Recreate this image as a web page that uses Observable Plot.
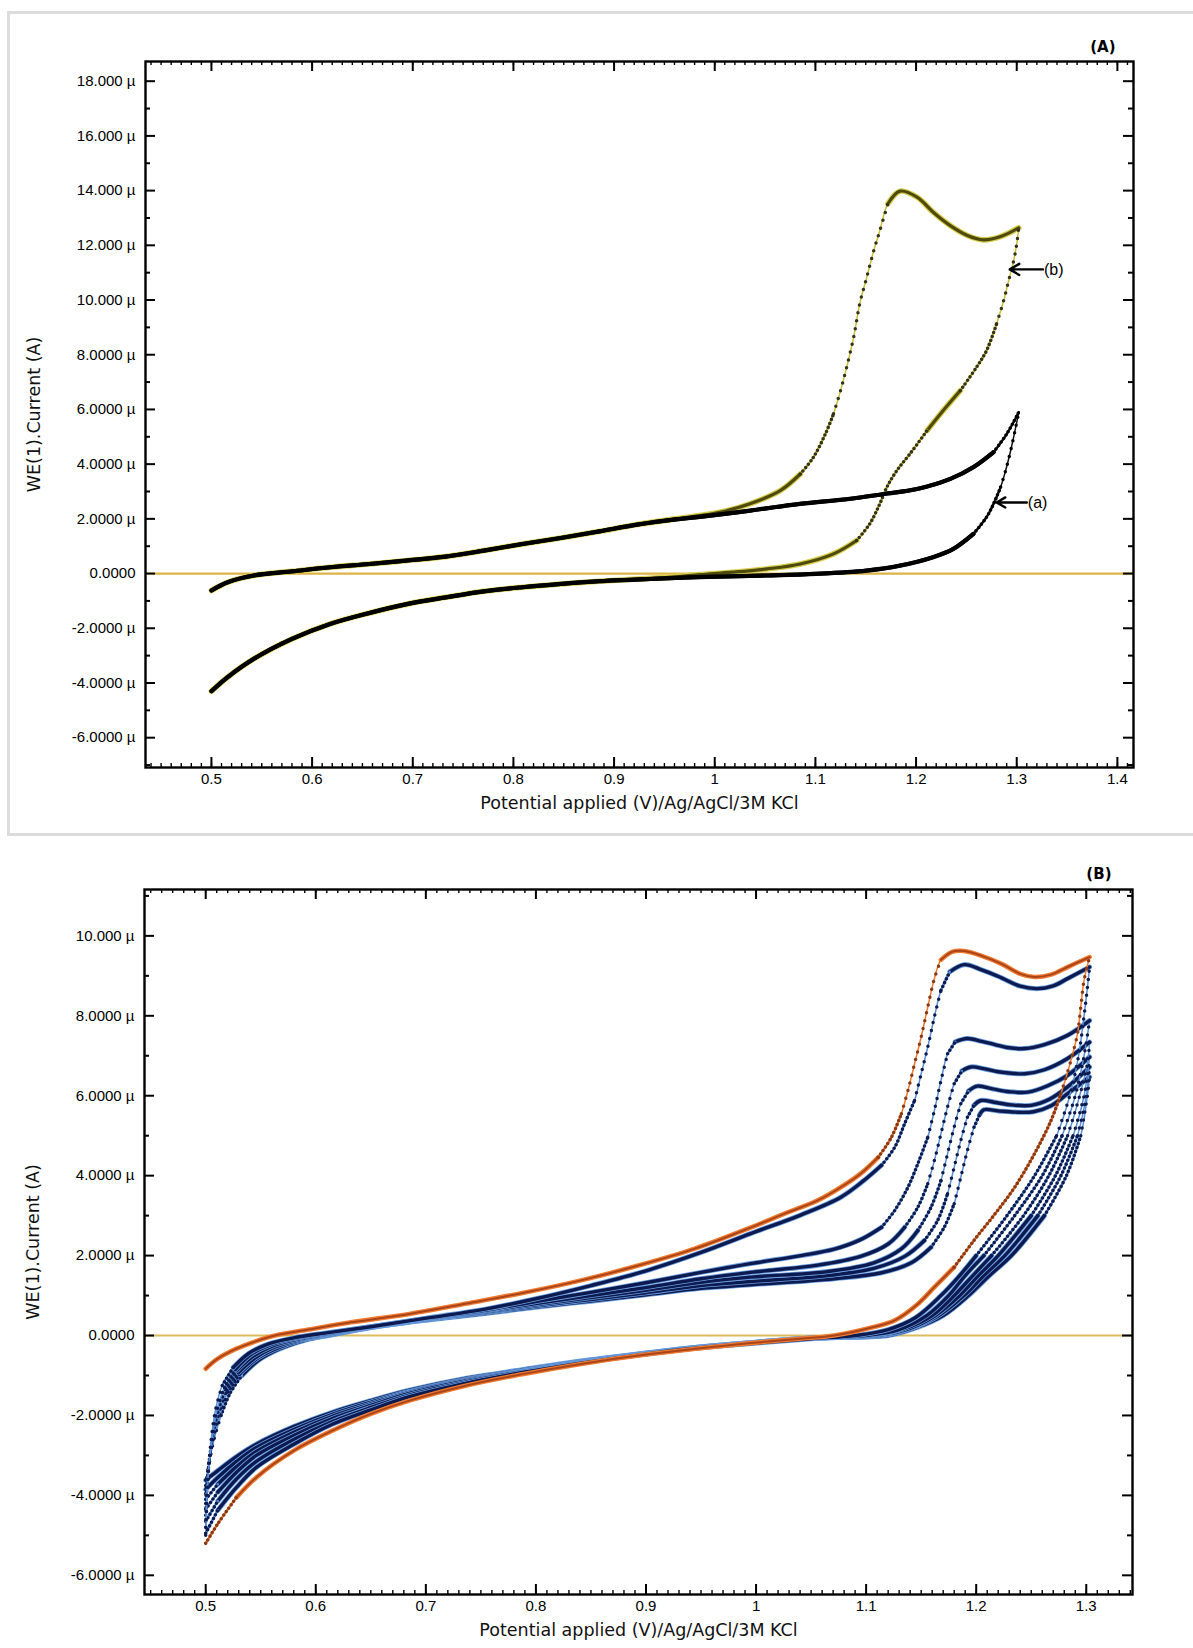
<!DOCTYPE html>
<html><head><meta charset="utf-8">
<script src="https://cdn.jsdelivr.net/npm/d3@7"></script>
<script src="https://cdn.jsdelivr.net/npm/@observablehq/plot@0.6"></script>
<style>
html,body{margin:0;padding:0;background:#fff;overflow:hidden;}
#page{position:relative;width:1193px;height:1648px;background:#fff;}
#boxA{position:absolute;left:7px;top:11px;width:1200px;height:825px;border:3px solid #dcdcdc;box-sizing:border-box;}
#chartA{position:absolute;left:0;top:0;}
#chartB{position:absolute;left:0;top:840px;}
</style></head>
<body><div id="page"><div id="boxA"></div><div id="chartA"></div><div id="chartB"></div></div>
<script>
// ---------------- Panel A data (potential V, current µA) ----------------
const xTicksA = [0.5,0.6,0.7,0.8,0.9,1.0,1.1,1.2,1.3,1.4];
const xLabelsA = ["0.5","0.6","0.7","0.8","0.9","1","1.1","1.2","1.3","1.4"];
const yTicksA = [18,16,14,12,10,8,6,4,2,0,-2,-4,-6];
const yLabelsA = ["18.000 µ","16.000 µ","14.000 µ","12.000 µ","10.000 µ","8.0000 µ","6.0000 µ","4.0000 µ","2.0000 µ","0.0000","-2.0000 µ","-4.0000 µ","-6.0000 µ"];

const curveA_forward = [[0.500,-0.62],[0.516,-0.32],[0.542,-0.07],[0.580,0.08],[0.618,0.23],[0.657,0.35],[0.695,0.48],[0.733,0.62],[0.771,0.84],[0.809,1.08],[0.847,1.30],[0.885,1.54],[0.923,1.79],[0.961,1.98],[0.985,2.07],[1.035,2.30],[1.085,2.55],[1.134,2.73],[1.168,2.91],[1.201,3.09],[1.234,3.46],[1.257,3.89],[1.277,4.44],[1.290,5.10],[1.302,5.90]];
const curveA_reverse = [[0.500,-4.30],[0.516,-3.79],[0.542,-3.12],[0.580,-2.39],[0.618,-1.84],[0.657,-1.44],[0.695,-1.11],[0.733,-0.87],[0.771,-0.65],[0.809,-0.50],[0.847,-0.38],[0.885,-0.28],[0.923,-0.22],[0.961,-0.16],[0.985,-0.13],[1.052,-0.07],[1.101,-0.01],[1.151,0.11],[1.184,0.29],[1.217,0.60],[1.237,0.90],[1.257,1.45],[1.270,2.06],[1.277,2.55],[1.284,3.16],[1.289,3.77],[1.294,4.50],[1.299,5.35],[1.302,5.90]];
const curveB_forward = [[0.500,-0.62],[0.516,-0.32],[0.542,-0.07],[0.580,0.08],[0.618,0.23],[0.657,0.35],[0.695,0.48],[0.733,0.62],[0.771,0.84],[0.809,1.08],[0.847,1.30],[0.885,1.54],[0.923,1.79],[0.961,2.00],[0.985,2.12],[1.005,2.24],[1.035,2.55],[1.065,3.03],[1.085,3.64],[1.098,4.25],[1.110,5.11],[1.118,5.84],[1.125,6.69],[1.131,7.54],[1.138,8.64],[1.144,9.86],[1.151,10.83],[1.158,11.81],[1.164,12.54],[1.172,13.52],[1.184,13.98],[1.201,13.76],[1.217,13.21],[1.234,12.72],[1.251,12.36],[1.267,12.20],[1.284,12.32],[1.302,12.64]];
const curveB_reverse = [[0.500,-4.30],[0.516,-3.79],[0.542,-3.12],[0.580,-2.39],[0.618,-1.84],[0.657,-1.44],[0.695,-1.11],[0.733,-0.87],[0.771,-0.65],[0.809,-0.50],[0.847,-0.38],[0.885,-0.28],[0.923,-0.20],[0.961,-0.12],[0.985,-0.04],[1.018,0.05],[1.052,0.17],[1.085,0.35],[1.118,0.72],[1.141,1.21],[1.154,1.82],[1.164,2.55],[1.171,3.16],[1.181,3.77],[1.194,4.38],[1.211,5.23],[1.227,5.96],[1.244,6.69],[1.260,7.54],[1.270,8.15],[1.280,9.13],[1.287,9.98],[1.292,10.71],[1.297,11.44],[1.300,12.05],[1.302,12.64]];
const arrowsA = [
  {x1:1.326, y1:11.12, x2:1.293, y2:11.12, label:"(b)"},
  {x1:1.310, y1:2.60, x2:1.280, y2:2.60, label:"(a)"}
];

// ---------------- Panel B data ----------------
const xTicksB = [0.5,0.6,0.7,0.8,0.9,1.0,1.1,1.2,1.3];
const xLabelsB = ["0.5","0.6","0.7","0.8","0.9","1","1.1","1.2","1.3"];
const yTicksB = [10,8,6,4,2,0,-2,-4,-6];
const yLabelsB = ["10.000 µ","8.0000 µ","6.0000 µ","4.0000 µ","2.0000 µ","0.0000","-2.0000 µ","-4.0000 µ","-6.0000 µ"];

const orange_forward = [[0.500,-0.83],[0.511,-0.58],[0.528,-0.33],[0.546,-0.14],[0.563,0.00],[0.598,0.17],[0.632,0.33],[0.685,0.54],[0.737,0.80],[0.789,1.07],[0.841,1.38],[0.893,1.75],[0.945,2.18],[0.995,2.70],[1.026,3.05],[1.056,3.38],[1.077,3.71],[1.095,4.05],[1.111,4.46],[1.123,4.96],[1.132,5.55],[1.138,6.13],[1.144,6.80],[1.150,7.47],[1.156,8.22],[1.162,8.93],[1.168,9.40],[1.178,9.60],[1.189,9.62],[1.205,9.50],[1.223,9.30],[1.240,9.05],[1.253,8.97],[1.268,9.03],[1.283,9.22],[1.303,9.47]];
const orange_reverse = [[0.500,-5.20],[0.511,-4.71],[0.528,-4.05],[0.546,-3.55],[0.580,-2.88],[0.615,-2.38],[0.650,-1.96],[0.685,-1.63],[0.737,-1.25],[0.789,-0.96],[0.841,-0.71],[0.893,-0.50],[0.945,-0.33],[0.995,-0.19],[1.040,-0.08],[1.071,0.00],[1.105,0.20],[1.126,0.38],[1.147,0.79],[1.162,1.21],[1.180,1.71],[1.198,2.38],[1.217,3.04],[1.235,3.71],[1.253,4.55],[1.268,5.38],[1.277,6.05],[1.286,6.88],[1.292,7.55],[1.295,8.22],[1.298,8.89],[1.303,9.47]];

const navy1_forward = [[0.500,-5.00],[0.502,-3.60],[0.505,-2.60],[0.509,-1.85],[0.515,-1.25],[0.525,-0.80],[0.539,-0.45],[0.556,-0.22],[0.580,-0.06],[0.608,0.06],[0.650,0.22],[0.702,0.44],[0.754,0.66],[0.800,0.92],[0.850,1.25],[0.900,1.62],[0.950,2.08],[0.995,2.55],[1.041,3.02],[1.077,3.46],[1.098,3.88],[1.114,4.26],[1.126,4.71],[1.135,5.30],[1.144,5.88],[1.150,6.55],[1.156,7.22],[1.162,7.97],[1.168,8.64],[1.176,9.10],[1.189,9.28],[1.205,9.15],[1.223,8.95],[1.240,8.74],[1.256,8.68],[1.270,8.75],[1.283,8.93],[1.303,9.22]];
const navy2_forward = [[0.500,-4.80],[0.502,-3.55],[0.506,-2.60],[0.510,-1.90],[0.517,-1.30],[0.527,-0.85],[0.541,-0.48],[0.558,-0.24],[0.582,-0.07],[0.610,0.05],[0.650,0.22],[0.702,0.43],[0.754,0.63],[0.800,0.85],[0.850,1.08],[0.900,1.32],[0.950,1.58],[0.995,1.80],[1.041,2.00],[1.071,2.16],[1.095,2.40],[1.114,2.71],[1.126,3.13],[1.138,3.71],[1.147,4.30],[1.156,4.96],[1.162,5.63],[1.168,6.38],[1.174,7.05],[1.181,7.35],[1.192,7.43],[1.205,7.36],[1.217,7.28],[1.230,7.20],[1.244,7.18],[1.262,7.28],[1.283,7.51],[1.303,7.88]];
const navy3_forward = [[0.500,-4.50],[0.502,-3.45],[0.506,-2.58],[0.511,-1.92],[0.518,-1.33],[0.528,-0.88],[0.543,-0.52],[0.560,-0.27],[0.584,-0.09],[0.612,0.04],[0.650,0.21],[0.702,0.42],[0.754,0.61],[0.800,0.80],[0.850,1.00],[0.900,1.20],[0.950,1.42],[0.995,1.58],[1.056,1.76],[1.095,1.98],[1.120,2.29],[1.135,2.71],[1.147,3.21],[1.156,3.80],[1.162,4.38],[1.168,5.05],[1.174,5.72],[1.180,6.30],[1.187,6.62],[1.195,6.72],[1.208,6.67],[1.220,6.60],[1.244,6.55],[1.262,6.65],[1.283,6.93],[1.303,7.34]];
const navy4_forward = [[0.500,-4.20],[0.502,-3.35],[0.507,-2.56],[0.512,-1.95],[0.519,-1.37],[0.530,-0.92],[0.545,-0.56],[0.562,-0.30],[0.586,-0.10],[0.613,0.03],[0.650,0.21],[0.702,0.41],[0.754,0.59],[0.800,0.77],[0.850,0.95],[0.900,1.13],[0.950,1.33],[0.995,1.46],[1.065,1.60],[1.107,1.82],[1.132,2.17],[1.147,2.63],[1.159,3.21],[1.168,3.88],[1.174,4.55],[1.180,5.22],[1.186,5.80],[1.193,6.12],[1.201,6.24],[1.215,6.17],[1.230,6.10],[1.247,6.09],[1.265,6.25],[1.283,6.51],[1.303,6.97]];
const navy5_forward = [[0.500,-3.95],[0.503,-3.25],[0.507,-2.55],[0.513,-1.98],[0.520,-1.41],[0.531,-0.96],[0.546,-0.59],[0.564,-0.33],[0.588,-0.11],[0.614,0.02],[0.650,0.20],[0.702,0.40],[0.754,0.57],[0.800,0.74],[0.850,0.90],[0.900,1.07],[0.950,1.25],[0.995,1.35],[1.065,1.50],[1.107,1.68],[1.135,1.98],[1.153,2.38],[1.165,2.88],[1.174,3.55],[1.180,4.21],[1.186,4.88],[1.192,5.46],[1.198,5.76],[1.204,5.88],[1.218,5.83],[1.232,5.77],[1.250,5.76],[1.267,5.92],[1.283,6.22],[1.303,6.72]];
const navy6_forward = [[0.500,-3.75],[0.503,-3.20],[0.508,-2.55],[0.514,-2.00],[0.522,-1.45],[0.533,-1.00],[0.548,-0.62],[0.566,-0.35],[0.590,-0.12],[0.615,0.02],[0.650,0.20],[0.702,0.39],[0.754,0.55],[0.800,0.71],[0.850,0.86],[0.900,1.02],[0.950,1.18],[0.995,1.27],[1.071,1.42],[1.114,1.57],[1.141,1.82],[1.159,2.21],[1.171,2.71],[1.180,3.30],[1.186,3.96],[1.192,4.63],[1.198,5.21],[1.203,5.52],[1.207,5.65],[1.220,5.62],[1.235,5.59],[1.252,5.60],[1.268,5.75],[1.283,6.05],[1.303,6.47]];

const navy1_reverse = [[0.500,-4.95],[0.511,-4.37],[0.528,-3.80],[0.546,-3.30],[0.580,-2.72],[0.615,-2.22],[0.650,-1.86],[0.685,-1.53],[0.737,-1.19],[0.789,-0.92],[0.841,-0.69],[0.893,-0.49],[0.945,-0.32],[0.995,-0.20],[1.050,-0.08],[1.090,0.00],[1.120,0.15],[1.145,0.45],[1.168,1.00],[1.185,1.50],[1.200,2.00],[1.228,3.00],[1.253,4.00],[1.273,5.00],[1.285,6.00],[1.293,7.00],[1.298,8.00],[1.301,8.70],[1.303,9.22]];
const navy2_reverse = [[0.500,-4.65],[0.511,-4.14],[0.528,-3.59],[0.546,-3.15],[0.580,-2.60],[0.615,-2.15],[0.650,-1.80],[0.685,-1.49],[0.737,-1.16],[0.789,-0.90],[0.841,-0.68],[0.893,-0.48],[0.945,-0.31],[0.995,-0.19],[1.050,-0.07],[1.100,0.00],[1.130,0.15],[1.155,0.50],[1.175,1.00],[1.190,1.50],[1.207,2.00],[1.235,3.00],[1.260,4.00],[1.278,5.00],[1.290,6.00],[1.298,7.00],[1.303,7.88]];
const navy3_reverse = [[0.500,-4.35],[0.511,-3.92],[0.528,-3.42],[0.546,-3.00],[0.580,-2.50],[0.615,-2.08],[0.650,-1.75],[0.685,-1.45],[0.737,-1.13],[0.789,-0.89],[0.841,-0.67],[0.893,-0.48],[0.945,-0.31],[0.995,-0.19],[1.050,-0.07],[1.105,0.00],[1.135,0.17],[1.160,0.50],[1.180,1.00],[1.197,1.50],[1.214,2.00],[1.243,3.00],[1.266,4.00],[1.283,5.00],[1.294,6.00],[1.301,6.80],[1.303,7.34]];
const navy4_reverse = [[0.500,-4.10],[0.511,-3.72],[0.528,-3.28],[0.546,-2.90],[0.580,-2.42],[0.615,-2.02],[0.650,-1.71],[0.685,-1.42],[0.737,-1.11],[0.789,-0.88],[0.841,-0.66],[0.893,-0.47],[0.945,-0.30],[0.995,-0.18],[1.050,-0.07],[1.110,0.00],[1.140,0.18],[1.163,0.50],[1.185,1.00],[1.202,1.50],[1.220,2.00],[1.250,3.00],[1.272,4.00],[1.288,5.00],[1.298,6.00],[1.303,6.97]];
const navy5_reverse = [[0.500,-3.85],[0.511,-3.55],[0.528,-3.15],[0.546,-2.80],[0.580,-2.35],[0.615,-1.97],[0.650,-1.67],[0.685,-1.40],[0.737,-1.09],[0.789,-0.86],[0.841,-0.65],[0.893,-0.47],[0.945,-0.30],[0.995,-0.18],[1.050,-0.06],[1.115,0.00],[1.143,0.20],[1.166,0.50],[1.189,1.00],[1.207,1.50],[1.226,2.00],[1.256,3.00],[1.277,4.00],[1.292,5.00],[1.300,6.00],[1.303,6.72]];
const navy6_reverse = [[0.500,-3.62],[0.511,-3.38],[0.528,-3.03],[0.546,-2.72],[0.580,-2.28],[0.615,-1.92],[0.650,-1.63],[0.685,-1.37],[0.737,-1.07],[0.789,-0.85],[0.841,-0.64],[0.893,-0.46],[0.945,-0.30],[0.995,-0.18],[1.050,-0.06],[1.120,0.00],[1.146,0.20],[1.170,0.50],[1.193,1.00],[1.212,1.50],[1.232,2.00],[1.262,3.00],[1.282,4.00],[1.295,5.00],[1.301,6.00],[1.303,6.47]];

const X_TITLE = "Potential applied (V)/Ag/AgCl/3M KCl";
const Y_TITLE = "WE(1).Current (A)";

// ---------------- rendering ----------------
const TICK_FONT = "'Liberation Sans', Arial, sans-serif";
const TITLE_FONT = "'DejaVu Sans', sans-serif";

// split a branch into runs by on-screen steepness: flat (solid), medium (dense dots), steep (sparse dots)
function splitRuns(points, sx, sy, id) {
  const out = {flat: [], mid: [], steep: []};
  let run = 0, cls = null;
  for (let i = 0; i < points.length - 1; i++) {
    const [x0, y0] = points[i], [x1, y1] = points[i + 1];
    const dx = Math.abs(x1 - x0) * sx, dy = Math.abs(y1 - y0) * sy;
    const c = dy > 2.8 * dx ? "steep" : dy > 1.25 * dx ? "mid" : "flat";
    if (c !== cls) { run++; cls = c; out[c].push({x: x0, y: y0, run: id + "-" + run}); }
    out[c].push({x: x1, y: y1, run: id + "-" + run});
  }
  return out;
}

function panel(o) {
  const plotW = o.width - o.ml - o.mr, plotH = o.height - o.mt - o.mb;
  const sx = plotW / (o.xd[1] - o.xd[0]), sy = plotH / (o.yd[1] - o.yd[0]);
  const marks = [];
  marks.push(Plot.ruleY([0], {stroke: o.zeroColor, strokeWidth: 2.2}));
  for (const c of o.curves) {
    const base = [], flat = [], mid = [], steep = [];
    [c.fwd, c.rev].forEach((pts, bi) => {
      pts.forEach(p => base.push({x: p[0], y: p[1], run: c.name + bi}));
      const r = splitRuns(pts, sx, sy, c.name + bi);
      flat.push(...r.flat); mid.push(...r.mid); steep.push(...r.steep);
    });
    const common = {x: "x", y: "y", z: "run", curve: "catmull-rom", strokeLinecap: "round", strokeLinejoin: "round"};
    marks.push(Plot.line(base, {...common, stroke: c.base, strokeWidth: 1.5}));
    marks.push(Plot.line(flat, {...common, stroke: c.halo, strokeWidth: c.hw}));
    marks.push(Plot.line(flat, {...common, stroke: c.core, strokeWidth: c.cw}));
    marks.push(Plot.line(mid, {...common, stroke: c.base, strokeWidth: 2.4}));
    marks.push(Plot.line(mid, {...common, stroke: c.dot, strokeWidth: 3.6, strokeDasharray: "0 4.2"}));
    marks.push(Plot.line(steep, {...common, stroke: c.dot, strokeWidth: 3.5, strokeDasharray: "0 8"}));
  }
  const minorY = d3.range(Math.ceil(o.yd[0]), o.yd[1], 1).filter(v => Math.abs(v % 2) === 1);
  const minorX = d3.range(Math.ceil(o.xd[0] * 100), Math.floor(o.xd[1] * 100) + 1, 1).map(v => v / 100);
  const tk = {stroke: "#000", strokeWidth: 2};
  marks.push(Plot.tickY(o.yTicks, {y: d => d, insetRight: plotW - 10, ...tk}));
  marks.push(Plot.tickY(o.yTicks, {y: d => d, insetLeft: plotW - 10, ...tk}));
  marks.push(Plot.tickY(minorY, {y: d => d, insetRight: plotW - 5, ...tk}));
  marks.push(Plot.tickY(minorY, {y: d => d, insetLeft: plotW - 5, ...tk}));
  marks.push(Plot.tickX(o.xTicks, {x: d => d, insetTop: plotH - 10, ...tk}));
  marks.push(Plot.tickX(o.xTicks, {x: d => d, insetBottom: plotH - 10, ...tk}));
  marks.push(Plot.tickX(minorX, {x: d => d, insetTop: plotH - 4, stroke: "#000", strokeWidth: 1.4}));
  marks.push(Plot.tickX(minorX, {x: d => d, insetBottom: plotH - 4, stroke: "#000", strokeWidth: 1.4}));
  marks.push(Plot.frame({stroke: "#000", strokeWidth: 2.4}));
  marks.push(Plot.text(o.yTicks, {y: d => d, text: (d, i) => o.yLabels[i], frameAnchor: "left", textAnchor: "end", dx: -10, fontSize: 15, fontFamily: TICK_FONT, fill: "#000"}));
  marks.push(Plot.text(o.xTicks, {x: d => d, text: (d, i) => o.xLabels[i], frameAnchor: "bottom", dy: 16, fontSize: 15, fontFamily: TICK_FONT, fill: "#000"}));
  marks.push(Plot.text([X_TITLE], {text: d => d, frameAnchor: "bottom", textAnchor: "middle", dy: 41, fontSize: 17.5, fontFamily: TITLE_FONT, fill: "#111"}));
  marks.push(Plot.text([Y_TITLE], {text: d => d, frameAnchor: "left", textAnchor: "middle", rotate: -90, dx: -111, fontSize: 17.5, fontFamily: TITLE_FONT, fill: "#111"}));
  marks.push(Plot.text([o.tag], {text: d => d, frameAnchor: "top-right", textAnchor: "end", dx: o.tagDx, dy: o.tagDy, fontSize: 15, fontWeight: "bold", fontFamily: TITLE_FONT, fill: "#000"}));
  if (o.arrows) {
    marks.push(Plot.arrow(o.arrows, {x1: "x1", y1: "y1", x2: "x2", y2: "y2", stroke: "#000", strokeWidth: 2.4, headLength: 9, headAngle: 60}));
    marks.push(Plot.text(o.arrows, {x: "x1", y: "y1", text: "label", textAnchor: "start", dx: 1, fontSize: 16, fontFamily: TICK_FONT, fill: "#000"}));
  }
  return Plot.plot({
    width: o.width, height: o.height,
    marginLeft: o.ml, marginRight: o.mr, marginTop: o.mt, marginBottom: o.mb,
    x: {domain: o.xd, axis: null},
    y: {domain: o.yd, axis: null},
    style: {background: "transparent", fontFamily: TICK_FONT, overflow: "visible"},
    marks
  });
}

const chartA = panel({
  width: 1193, height: 840, ml: 145, mr: 60, mt: 61, mb: 73,
  xd: [0.4345, 1.416], yd: [-7.09, 18.72],
  xTicks: xTicksA, xLabels: xLabelsA, yTicks: yTicksA, yLabels: yLabelsA,
  zeroColor: "#dcb445", tag: "(A)", tagDx: -18, tagDy: -20,
  arrows: arrowsA,
  curves: [
    {name: "b", fwd: curveB_forward, rev: curveB_reverse, base: "#c9bf36", halo: "#d6cd4a", hw: 5.6, core: "#4e4a0e", cw: 3.2, dot: "#33321a"},
    {name: "a", fwd: curveA_forward, rev: curveA_reverse, base: "#111", halo: "#000", hw: 4.2, core: "#000", cw: 4, dot: "#000"}
  ]
});
document.getElementById("chartA").append(chartA);

const navyStyle = {base: "#5a8fd4", halo: "#6a9ee0", hw: 5, core: "#0c1a50", cw: 3.4, dot: "#0c1a50"};
const chartB = panel({
  width: 1193, height: 808, ml: 144, mr: 61, mt: 49, mb: 54,
  xd: [0.4444, 1.342], yd: [-6.48, 11.16],
  xTicks: xTicksB, xLabels: xLabelsB, yTicks: yTicksB, yLabels: yLabelsB,
  zeroColor: "#dcbc5c", tag: "(B)", tagDx: -21, tagDy: -21,
  curves: [
    {name: "n6", fwd: navy6_forward, rev: navy6_reverse, ...navyStyle},
    {name: "n5", fwd: navy5_forward, rev: navy5_reverse, ...navyStyle},
    {name: "n4", fwd: navy4_forward, rev: navy4_reverse, ...navyStyle},
    {name: "n3", fwd: navy3_forward, rev: navy3_reverse, ...navyStyle},
    {name: "n2", fwd: navy2_forward, rev: navy2_reverse, ...navyStyle},
    {name: "n1", fwd: navy1_forward, rev: navy1_reverse, ...navyStyle},
    {name: "or", fwd: orange_forward, rev: orange_reverse, base: "#f07a2e", halo: "#f2792d", hw: 4.6, core: "#a8451b", cw: 2, dot: "#8a3815"}
  ]
});
document.getElementById("chartB").append(chartB);
</script>
</body></html>
